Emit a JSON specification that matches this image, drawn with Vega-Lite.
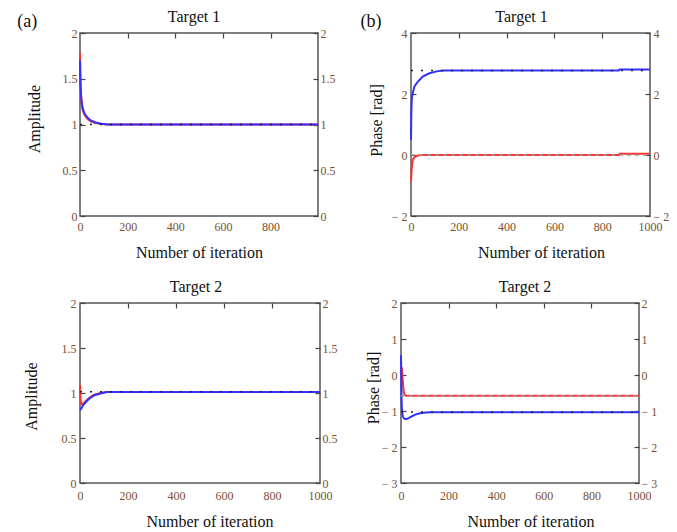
{
 "$schema": "https://vega.github.io/schema/vega-lite/v6.json",
 "background": "white",
 "padding": {"left": 17, "top": 8, "right": 5, "bottom": 3},
 "config": {
  "view": {"stroke": "#555", "strokeWidth": 1.5},
  "font": "Liberation Serif",
  "axis": {"grid": false, "domain": false, "labelFont": "Liberation Serif", "labelFontSize": 12, "labelColor": "#7a5030", "titleFont": "Liberation Serif", "titleFontSize": 16, "titleFontWeight": "normal", "titleColor": "#111", "tickColor": "#444", "tickWidth": 1.2, "labelFlush": false, "labelOverlap": false},
  "title": {"font": "Liberation Serif", "fontSize": 16, "fontWeight": "normal", "color": "#111", "offset": 2}
 },
 "title": {"text": "(a)", "anchor": "start", "frame": "bounds", "fontSize": 18, "offset": 0, "dx": -5, "dy": 23},
 "datasets": {
  "p1": [
   {"s":"red","it":0,"v":1.78},{"s":"red","it":1,"v":1.6},{"s":"red","it":2,"v":1.46},{"s":"red","it":4,"v":1.33},{"s":"red","it":7,"v":1.23},{"s":"red","it":12,"v":1.15},{"s":"red","it":20,"v":1.1},{"s":"red","it":30,"v":1.065},{"s":"red","it":45,"v":1.035},{"s":"red","it":65,"v":1.015},{"s":"red","it":90,"v":1.005},{"s":"red","it":115,"v":1.0},{"s":"red","it":999,"v":1.0},
   {"s":"blue","it":0,"v":1.7},{"s":"blue","it":1,"v":1.56},{"s":"blue","it":2,"v":1.44},{"s":"blue","it":4,"v":1.33},{"s":"blue","it":7,"v":1.24},{"s":"blue","it":12,"v":1.17},{"s":"blue","it":20,"v":1.115},{"s":"blue","it":30,"v":1.08},{"s":"blue","it":45,"v":1.045},{"s":"blue","it":65,"v":1.022},{"s":"blue","it":90,"v":1.008},{"s":"blue","it":115,"v":1.0},{"s":"blue","it":999,"v":1.0},
   {"s":"tgt","it":0,"v":1.0},{"s":"tgt","it":999,"v":1.0}
  ],
  "p2": [
   {"s":"red","it":0,"v":-0.89},{"s":"red","it":1,"v":-0.7},{"s":"red","it":2,"v":-0.55},{"s":"red","it":4,"v":-0.35},{"s":"red","it":7,"v":-0.18},{"s":"red","it":12,"v":-0.09},{"s":"red","it":21,"v":-0.04},{"s":"red","it":34,"v":-0.01},{"s":"red","it":50,"v":0},{"s":"red","it":870,"v":0},{"s":"red","it":872,"v":0.04},{"s":"red","it":1000,"v":0.04},
   {"s":"blue","it":0,"v":0.5},{"s":"blue","it":1,"v":1.1},{"s":"blue","it":2,"v":1.6},{"s":"blue","it":4,"v":1.9},{"s":"blue","it":8,"v":2.05},{"s":"blue","it":14,"v":2.24},{"s":"blue","it":28,"v":2.4},{"s":"blue","it":49,"v":2.57},{"s":"blue","it":77,"v":2.68},{"s":"blue","it":112,"v":2.75},{"s":"blue","it":140,"v":2.77},{"s":"blue","it":870,"v":2.77},{"s":"blue","it":872,"v":2.8},{"s":"blue","it":1000,"v":2.8},
   {"s":"tgt","it":0,"v":2.77},{"s":"tgt","it":1000,"v":2.77},
   {"s":"tgtr","it":0,"v":0},{"s":"tgtr","it":1000,"v":0}
  ],
  "p3": [
   {"s":"red","it":0,"v":1.09},{"s":"red","it":1,"v":1.0},{"s":"red","it":3,"v":0.91},{"s":"red","it":6,"v":0.875},{"s":"red","it":10,"v":0.875},{"s":"red","it":20,"v":0.9},{"s":"red","it":35,"v":0.94},{"s":"red","it":57,"v":0.98},{"s":"red","it":85,"v":1.0},{"s":"red","it":112,"v":1.01},{"s":"red","it":1000,"v":1.01},
   {"s":"blue","it":0,"v":0.81},{"s":"blue","it":3,"v":0.82},{"s":"blue","it":8,"v":0.84},{"s":"blue","it":15,"v":0.87},{"s":"blue","it":25,"v":0.9},{"s":"blue","it":40,"v":0.94},{"s":"blue","it":60,"v":0.975},{"s":"blue","it":85,"v":0.995},{"s":"blue","it":112,"v":1.01},{"s":"blue","it":1000,"v":1.01},
   {"s":"tgt","it":0,"v":1.015},{"s":"tgt","it":1000,"v":1.015}
  ],
  "p4": [
   {"s":"red","it":0,"v":0.22},{"s":"red","it":3,"v":0.2},{"s":"red","it":6,"v":0.0},{"s":"red","it":9,"v":-0.3},{"s":"red","it":12,"v":-0.48},{"s":"red","it":16,"v":-0.55},{"s":"red","it":22,"v":-0.575},{"s":"red","it":1000,"v":-0.575},
   {"s":"blue","it":0,"v":0.55},{"s":"blue","it":1,"v":0.0},{"s":"blue","it":2,"v":-0.5},{"s":"blue","it":3,"v":-0.85},{"s":"blue","it":5,"v":-1.05},{"s":"blue","it":8,"v":-1.16},{"s":"blue","it":14,"v":-1.21},{"s":"blue","it":22,"v":-1.23},{"s":"blue","it":32,"v":-1.2},{"s":"blue","it":45,"v":-1.15},{"s":"blue","it":60,"v":-1.1},{"s":"blue","it":80,"v":-1.065},{"s":"blue","it":105,"v":-1.045},{"s":"blue","it":130,"v":-1.035},{"s":"blue","it":1000,"v":-1.035},
   {"s":"tgt","it":0,"v":-1.03},{"s":"tgt","it":1000,"v":-1.03},
   {"s":"tgtr","it":0,"v":-0.575},{"s":"tgtr","it":1000,"v":-0.575}
  ]
 },
 "vconcat": [
  {"spacing": 24, "hconcat": [
   {"width": 238, "height": 183, "title": {"text": "Target 1", "dx": -5}, "data": {"name": "p1"},
    "layer": [
     {"transform": [{"filter": "datum.s == 'red'"}], "mark": {"type": "line", "color": "#ff3030", "strokeWidth": 2},
      "encoding": {
       "x": {"field": "it", "type": "quantitative", "scale": {"domain": [0, 999], "nice": false, "zero": false}, "axis": {"orient": "bottom", "title": "Number of iteration", "ticks": false, "values": [0,200,400,600,800], "labelExpr": "'' + datum.value", "labelPadding": 5, "titlePadding": 12}},
       "y": {"field": "v", "type": "quantitative", "scale": {"domain": [0, 2], "nice": false, "zero": false}, "axis": {"orient": "left", "title": "Amplitude", "values": [0,0.5,1,1.5,2], "labelExpr": "'' + datum.value", "tickSize": -5, "labelPadding": 8, "titlePadding": 20, "titleY": 85.5}}
      }},
     {"transform": [{"filter": "datum.s == 'blue'"}], "mark": {"type": "line", "color": "#3030ff", "strokeWidth": 2},
      "encoding": {"x": {"field": "it", "type": "quantitative", "axis": null}, "y": {"field": "v", "type": "quantitative", "axis": null}}},
     {"transform": [{"filter": "datum.s == 'tgt'"}], "mark": {"type": "line", "color": "#222", "strokeWidth": 1.5, "strokeDash": [2, 8]},
      "encoding": {
       "x": {"field": "it", "type": "quantitative", "axis": {"orient": "top", "labels": false, "title": null, "tickSize": -5, "values": [200,400,600,800]}},
       "y": {"field": "v", "type": "quantitative", "axis": {"orient": "right", "title": null, "tickSize": -5, "labelPadding": 7, "values": [0,0.5,1,1.5,2], "labelExpr": "'' + datum.value"}}
      }}
    ],
    "resolve": {"axis": {"x": "independent", "y": "independent"}}
   },
   {"title": {"text": "(b)", "anchor": "start", "frame": "bounds", "fontSize": 18, "offset": 0, "dx": -7, "dy": 23},
    "vconcat": [
     {"width": 239, "height": 183, "title": {"text": "Target 1", "dx": -9}, "data": {"name": "p2"},
      "layer": [
       {"transform": [{"filter": "datum.s == 'red'"}], "mark": {"type": "line", "color": "#ff3030", "strokeWidth": 2},
        "encoding": {
         "x": {"field": "it", "type": "quantitative", "scale": {"domain": [0, 1000], "nice": false, "zero": false}, "axis": {"orient": "bottom", "title": "Number of iteration", "ticks": false, "values": [0,200,400,600,800,1000], "labelExpr": "'' + datum.value", "labelPadding": 5, "titlePadding": 12, "titleX": 130}},
         "y": {"field": "v", "type": "quantitative", "scale": {"domain": [-2, 4], "nice": false, "zero": false}, "axis": {"orient": "left", "title": "Phase [rad]", "values": [-2,0,2,4], "labelExpr": "datum.value < 0 ? '− ' + (-datum.value) : '' + datum.value", "tickSize": -5, "labelPadding": 9, "titlePadding": 7, "titleY": 87}}
        }},
       {"transform": [{"filter": "datum.s == 'blue'"}], "mark": {"type": "line", "color": "#3030ff", "strokeWidth": 2},
        "encoding": {"x": {"field": "it", "type": "quantitative", "axis": null}, "y": {"field": "v", "type": "quantitative", "axis": null}}},
       {"transform": [{"filter": "datum.s == 'tgt'"}], "mark": {"type": "line", "color": "#222", "strokeWidth": 1.5, "strokeDash": [2, 8]},
        "encoding": {
         "x": {"field": "it", "type": "quantitative", "axis": {"orient": "top", "labels": false, "title": null, "tickSize": -5, "values": [200,400,600,800]}},
         "y": {"field": "v", "type": "quantitative", "axis": {"orient": "right", "title": null, "tickSize": -5, "labelPadding": 8, "values": [-2,0,2,4], "labelExpr": "datum.value < 0 ? '− ' + (-datum.value) : '' + datum.value"}}
        }},
       {"transform": [{"filter": "datum.s == 'tgtr'"}], "mark": {"type": "line", "color": "#999", "strokeWidth": 1.5, "strokeDash": [4, 4]},
        "encoding": {"x": {"field": "it", "type": "quantitative", "axis": null}, "y": {"field": "v", "type": "quantitative", "axis": null}}}
      ],
      "resolve": {"axis": {"x": "independent", "y": "independent"}}
     }
    ]
   }
  ]},
  {"spacing": 26, "hconcat": [
   {"width": 240, "height": 180, "title": {"text": "Target 2", "dx": -4}, "data": {"name": "p3"},
    "layer": [
     {"transform": [{"filter": "datum.s == 'red'"}], "mark": {"type": "line", "color": "#ff3030", "strokeWidth": 2},
      "encoding": {
       "x": {"field": "it", "type": "quantitative", "scale": {"domain": [0, 1000], "nice": false, "zero": false}, "axis": {"orient": "bottom", "title": "Number of iteration", "ticks": false, "values": [0,200,400,600,800,1000], "labelExpr": "'' + datum.value", "labelPadding": 7.5, "titlePadding": 12, "titleX": 129.5}},
       "y": {"field": "v", "type": "quantitative", "scale": {"domain": [0, 2], "nice": false, "zero": false}, "axis": {"orient": "left", "title": "Amplitude", "values": [0,0.5,1,1.5,2], "labelExpr": "'' + datum.value", "tickSize": -5, "labelPadding": 9, "titlePadding": 22, "titleY": 93}}
      }},
     {"transform": [{"filter": "datum.s == 'blue'"}], "mark": {"type": "line", "color": "#3030ff", "strokeWidth": 2},
      "encoding": {"x": {"field": "it", "type": "quantitative", "axis": null}, "y": {"field": "v", "type": "quantitative", "axis": null}}},
     {"transform": [{"filter": "datum.s == 'tgt'"}], "mark": {"type": "line", "color": "#222", "strokeWidth": 1.5, "strokeDash": [2, 8]},
      "encoding": {
       "x": {"field": "it", "type": "quantitative", "axis": {"orient": "top", "labels": false, "title": null, "tickSize": -5, "values": [200,400,600,800]}},
       "y": {"field": "v", "type": "quantitative", "axis": {"orient": "right", "title": null, "tickSize": -5, "labelPadding": 7, "values": [0,0.5,1,1.5,2], "labelExpr": "'' + datum.value"}}
      }}
    ],
    "resolve": {"axis": {"x": "independent", "y": "independent"}}
   },
   {"width": 238, "height": 180, "title": {"text": "Target 2", "dx": 5}, "data": {"name": "p4"},
    "layer": [
     {"transform": [{"filter": "datum.s == 'red'"}], "mark": {"type": "line", "color": "#ff3030", "strokeWidth": 2},
      "encoding": {
       "x": {"field": "it", "type": "quantitative", "scale": {"domain": [0, 1000], "nice": false, "zero": false}, "axis": {"orient": "bottom", "title": "Number of iteration", "ticks": false, "values": [0,200,400,600,800,1000], "labelExpr": "'' + datum.value", "labelPadding": 7.5, "titlePadding": 12, "titleX": 129.5}},
       "y": {"field": "v", "type": "quantitative", "scale": {"domain": [-3, 2], "nice": false, "zero": false}, "axis": {"orient": "left", "title": "Phase [rad]", "values": [-3,-2,-1,0,1,2], "labelExpr": "datum.value < 0 ? '− ' + (-datum.value) : '' + datum.value", "tickSize": -5, "labelPadding": 9, "titlePadding": 0, "titleY": 84.5}}
      }},
     {"transform": [{"filter": "datum.s == 'blue'"}], "mark": {"type": "line", "color": "#3030ff", "strokeWidth": 2},
      "encoding": {"x": {"field": "it", "type": "quantitative", "axis": null}, "y": {"field": "v", "type": "quantitative", "axis": null}}},
     {"transform": [{"filter": "datum.s == 'tgt'"}], "mark": {"type": "line", "color": "#222", "strokeWidth": 1.5, "strokeDash": [2, 8]},
      "encoding": {
       "x": {"field": "it", "type": "quantitative", "axis": {"orient": "top", "labels": false, "title": null, "tickSize": -5, "values": [200,400,600,800]}},
       "y": {"field": "v", "type": "quantitative", "axis": {"orient": "right", "title": null, "tickSize": -5, "labelPadding": 7, "values": [-3,-2,-1,0,1,2], "labelExpr": "datum.value < 0 ? '− ' + (-datum.value) : '' + datum.value"}}
      }},
     {"transform": [{"filter": "datum.s == 'tgtr'"}], "mark": {"type": "line", "color": "#999", "strokeWidth": 1.5, "strokeDash": [4, 4]},
      "encoding": {"x": {"field": "it", "type": "quantitative", "axis": null}, "y": {"field": "v", "type": "quantitative", "axis": null}}}
    ],
    "resolve": {"axis": {"x": "independent", "y": "independent"}}
   }
  ]}
 ],
 "spacing": 17
}
